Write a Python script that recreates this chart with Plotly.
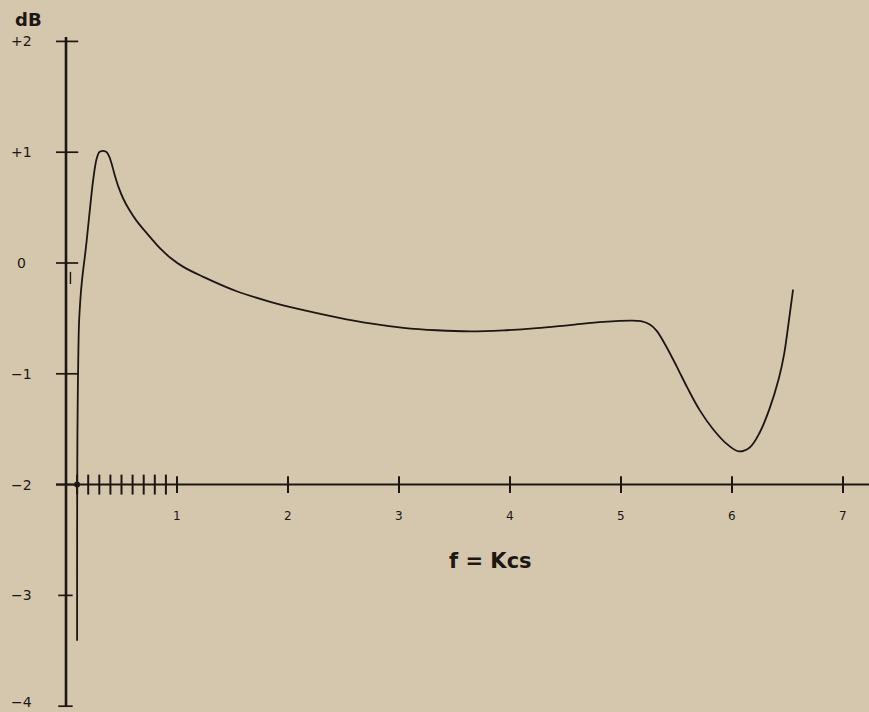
import plotly.graph_objects as go

# Response curve (f in kc/s, level in dB)
freq_khz = [0.100, 0.100, 0.101, 0.103, 0.106, 0.110, 0.117, 0.128, 0.140, 0.155, 0.170, 0.186, 0.216,
            0.246, 0.276, 0.300, 0.320, 0.345, 0.366, 0.390, 0.410, 0.440, 0.475, 0.516,
            0.570, 0.636, 0.710, 0.787, 0.860, 0.937, 1.057, 1.237, 1.538, 1.84, 2.14, 2.44, 2.74, 3.04,
            3.34, 3.64, 3.94, 4.24, 4.54, 4.84, 5.08, 5.18, 5.26, 5.32, 5.40, 5.50,
            5.60, 5.71, 5.83, 5.95, 6.06, 6.16, 6.25, 6.34, 6.42, 6.47, 6.51, 6.55]
level_db = [-3.41, -2.80, -2.00, -1.55, -1.20, -0.90, -0.55, -0.35, -0.20, -0.06, 0.06, 0.20, 0.49,
            0.76, 0.94, 1.00, 1.01, 1.01, 1.00, 0.96, 0.90, 0.79, 0.68, 0.58,
            0.48, 0.38, 0.29, 0.20, 0.12, 0.05, -0.035, -0.125, -0.255, -0.35, -0.425, -0.49, -0.545, -0.585,
            -0.607, -0.617, -0.608, -0.588, -0.56, -0.532, -0.52, -0.525, -0.555, -0.61, -0.74, -0.93,
            -1.13, -1.33, -1.50, -1.63, -1.70, -1.665, -1.53, -1.31, -1.05, -0.82, -0.54, -0.24]

y_ticks = [2, 1, 0, -1, -2, -3, -4]
y_tick_labels = ["+2", "+1", "0", "\u22121", "\u22122", "\u22123", "\u22124"]
x_major_ticks = [1, 2, 3, 4, 5, 6, 7]
x_major_labels = ["1", "2", "3", "4", "5", "6", "7"]
x_minor_ticks = [0.1, 0.2, 0.3, 0.4, 0.5, 0.6, 0.7, 0.8, 0.9]

INK = "#1e1612"
BG = "#d4c7ae"

fig = go.Figure()

# axis lines
fig.add_trace(go.Scatter(x=[0, 0], y=[-4.0, 2.04], mode="lines",
                         line=dict(color=INK, width=2.6), hoverinfo="skip"))
fig.add_trace(go.Scatter(x=[-0.09, 7.3], y=[-2, -2], mode="lines",
                         line=dict(color=INK, width=2.0), hoverinfo="skip"))

# y ticks
tx, ty = [], []
for v in y_ticks:
    half_l = 0.09 if v > -3 else 0.07
    half_r = 0.11 if v > -3 else 0.06
    tx += [-half_l, half_r, None]
    ty += [v, v, None]
fig.add_trace(go.Scatter(x=tx, y=ty, mode="lines", line=dict(color=INK, width=1.7),
                         hoverinfo="skip"))

# small stray mark just below 0 on the y axis
fig.add_trace(go.Scatter(x=[0.04, 0.04], y=[-0.08, -0.19], mode="lines",
                         line=dict(color=INK, width=1.4), hoverinfo="skip"))

# x ticks
mx, my = [], []
for v in x_major_ticks:
    mx += [v, v, None]
    my += [-2.075, -1.925, None]
for v in x_minor_ticks:
    mx += [v, v, None]
    my += [-2.09, -1.91, None]
fig.add_trace(go.Scatter(x=mx, y=my, mode="lines", line=dict(color=INK, width=2.0),
                         hoverinfo="skip"))

# curve
fig.add_trace(go.Scatter(x=freq_khz, y=level_db, mode="lines",
                         line=dict(color=INK, width=1.8, shape="spline", smoothing=1.0),
                         hoverinfo="skip"))
# small blob where the curve crosses the f axis
fig.add_trace(go.Scatter(x=[0.10], y=[-2.0], mode="markers",
                         marker=dict(color=INK, size=6), hoverinfo="skip"))

FONT = "DejaVu Sans"
ann = []
for v, t in zip(y_ticks, y_tick_labels):
    yy = v if v > -4 else -3.96
    ann.append(dict(x=-0.40, y=yy, xref="x", yref="y", text=t, showarrow=False,
                    font=dict(family=FONT, size=14, color=INK), xanchor="center", yanchor="middle"))
for v, t in zip(x_major_ticks, x_major_labels):
    ann.append(dict(x=v, y=-2.28, xref="x", yref="y", text=t, showarrow=False,
                    font=dict(family=FONT, size=12, color=INK), xanchor="center", yanchor="middle"))
ann.append(dict(x=-0.34, y=2.20, xref="x", yref="y", text="<b>dB</b>", showarrow=False,
                font=dict(family=FONT, size=18, color=INK), xanchor="center", yanchor="middle"))
ann.append(dict(x=3.82, y=-2.69, xref="x", yref="y", text="<b>f = Kcs</b>", showarrow=False,
                font=dict(family=FONT, size=21, color=INK), xanchor="center", yanchor="middle"))

fig.update_layout(
    width=869, height=712,
    margin=dict(l=0, r=0, t=0, b=0),
    paper_bgcolor=BG, plot_bgcolor=BG,
    showlegend=False,
    xaxis=dict(range=[-66 / 111.0, (869 - 66) / 111.0], visible=False, fixedrange=True),
    yaxis=dict(range=[(263 - 712) / 110.8, 263 / 110.8], visible=False, fixedrange=True),
    annotations=ann,
)

fig.write_html("out.html")
